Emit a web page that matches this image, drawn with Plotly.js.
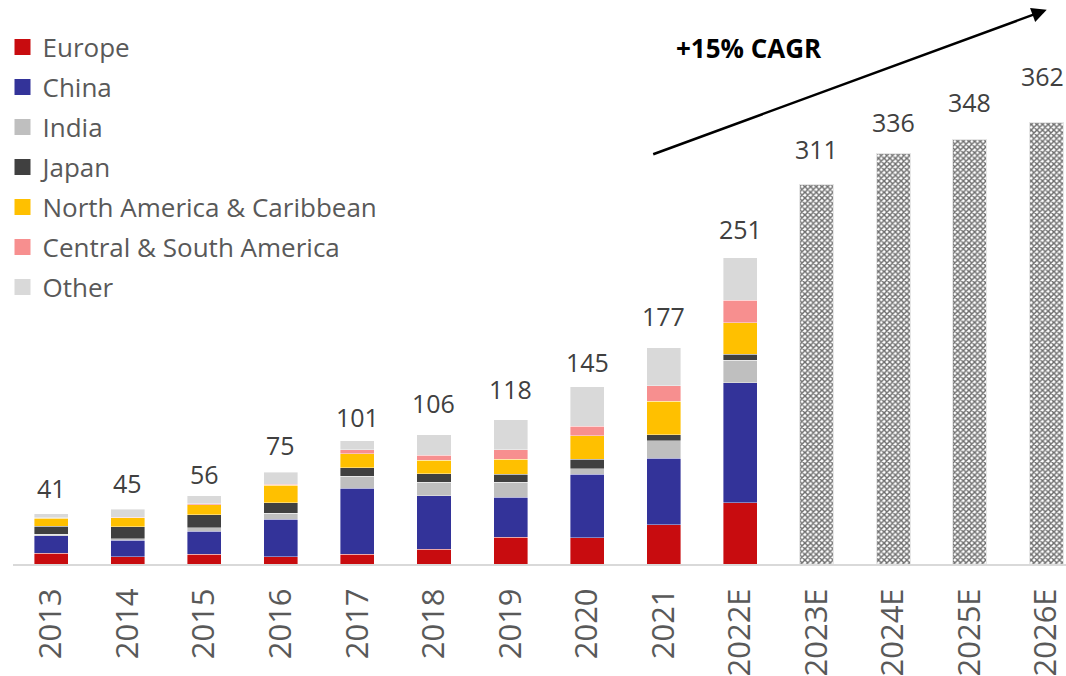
<!DOCTYPE html>
<html>
<head>
<meta charset="utf-8">
<script src="https://cdn.plot.ly/plotly-3.0.1.min.js"></script>
<style>html,body{margin:0;padding:0;background:#fff;}#chart{width:1066px;height:676px;}</style>
</head>
<body>
<div id="chart"></div>
<script>
const categories = ["2013","2014","2015","2016","2017","2018","2019","2020","2021","2022E","2023E","2024E","2025E","2026E"];
const europe  = [9, 6, 8, 6, 8, 12, 22, 21.5, 32, 50];
const china   = [14, 13.5, 19, 30.5, 54, 44, 32.5, 52, 54.5, 98.5];
const india   = [1.5, 1, 2.5, 5, 10, 11, 12.5, 4.5, 14.5, 18.5];
const japan   = [6.5, 10, 11, 8.5, 7, 7, 6.5, 8, 5, 5];
const northAmerica = [6.5, 7.5, 8, 14.5, 11.5, 11, 12.5, 19, 27.5, 25.5];
const centralSouthAmerica = [0.5, 0.5, 1, 1, 3, 4, 7.5, 8, 12.5, 18.5];
const other   = [3, 6.5, 6.5, 9.5, 7.5, 17, 24.5, 32, 31, 35];
const forecastCategories = ["2023E","2024E","2025E","2026E"];
const forecast = [311, 336, 348, 362];
const totals = [41, 45, 56, 75, 101, 106, 118, 145, 177, 251, 311, 336, 348, 362];
const cagrLabel = "+15% CAGR";

// label placement (style only)
const labelShift = [8, 8, 4, 9, 6, 14, 13, 7, 14, 11, 17, 14, 19, 28];
const labelXShift = [0, 0, 0, 0, 0, 0, 0, 0, 0, 0, 0, 0, 0, -4];
const legendRowsPx = [47, 87, 127, 167, 207, 247, 287];

const histCats = categories.slice(0, 10);
const series = [
  {name: "Europe", values: europe, color: "#C80C0F"},
  {name: "China", values: china, color: "#333399"},
  {name: "India", values: india, color: "#BFBFBF"},
  {name: "Japan", values: japan, color: "#404040"},
  {name: "North America & Caribbean", values: northAmerica, color: "#FFC000"},
  {name: "Central & South America", values: centralSouthAmerica, color: "#F78F8F"},
  {name: "Other", values: other, color: "#D9D9D9"}
];

const PLOT_TOP = 0, PLOT_H = 564, PLOT_L = 12.5, PLOT_W = 1053.5;

const traces = [];
series.forEach(s => {
  traces.push({
    type: "bar", x: histCats, y: s.values, name: s.name, showlegend: false,
    marker: {color: s.color, line: {color: "rgba(255,255,255,0.5)", width: 0.8}}
  });
});
traces.push({
  type: "bar", x: forecastCategories, y: forecast, name: "Forecast", showlegend: false,
  marker: {color: "#ffffff", line: {color: "#e6e6e6", width: 1},
    pattern: {shape: "x", size: 4, solidity: 0.6, fgcolor: "#6e6e6e", bgcolor: "#ffffff"}}
});

const layout = {
  width: 1066, height: 676,
  margin: {l: PLOT_L, r: 0, t: PLOT_TOP, b: 112},
  paper_bgcolor: "#ffffff", plot_bgcolor: "#ffffff",
  barmode: "stack", bargap: 0.555,
  font: {family: "Open Sans", color: "#595959"},
  xaxis: {
    type: "category", categoryorder: "array", categoryarray: categories,
    range: [-0.5, 13.257], showline: true, linecolor: "#D9D9D9", linewidth: 2,
    showgrid: false, zeroline: false, ticks: "", tickangle: -90,
    tickfont: {family: "Open Sans", size: 31, color: "#595959"}, ticklabelstandoff: 10
  },
  yaxis: {range: [0, 462], visible: false, showgrid: false, zeroline: false},
  showlegend: true
};

// one legend per entry so rows can be spaced like the reference
series.forEach((s, i) => {
  const key = i === 0 ? "legend" : "legend" + (i + 1);
  traces.push({
    type: "scatter", mode: "markers", x: [null], y: [null], name: s.name,
    marker: {symbol: "square", size: 16, color: s.color}, showlegend: true, legend: key
  });
  layout[key] = {
    x: (2 - PLOT_L) / PLOT_W, y: (PLOT_H - legendRowsPx[i]) / PLOT_H,
    xanchor: "left", yanchor: "middle", bgcolor: "rgba(0,0,0,0)",
    font: {family: "Open Sans", size: 26, color: "#595959"}, itemwidth: 30
  };
});

const annotations = categories.map((c, i) => ({
  x: i, y: totals[i], xref: "x", yref: "y", text: String(totals[i]),
  showarrow: false, yanchor: "bottom", yshift: labelShift[i], xshift: labelXShift[i],
  borderpad: 0,
  font: {family: "Open Sans", size: 25, color: "#404040"}
}));
annotations.push({
  x: 9.117, y: 423, xref: "x", yref: "y", text: "<b>" + cagrLabel + "</b>",
  showarrow: false, font: {family: "Open Sans", size: 26, color: "#000000"}
});
annotations.push({
  x: 13.005, y: 454, xref: "x", yref: "y", ax: -395, ay: 145, axref: "pixel", ayref: "pixel",
  text: "", showarrow: true, arrowhead: 2, arrowsize: 1.2, arrowwidth: 2.5, arrowcolor: "#000000", standoff: 0
});
layout.annotations = annotations;

Plotly.newPlot("chart", traces, layout, {displayModeBar: false, staticPlot: true});
</script>
</body>
</html>
